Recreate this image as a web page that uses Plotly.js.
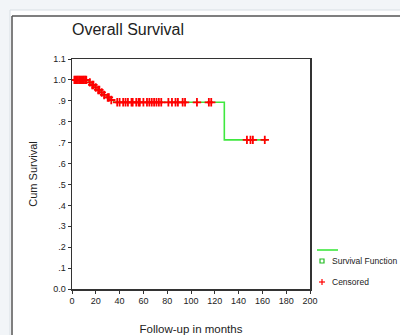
<!DOCTYPE html>
<html><head><meta charset="utf-8">
<script src="https://cdn.plot.ly/plotly-3.0.1.min.js"></script>
<style>html,body{margin:0;padding:0;background:#f2f5f8;}#c{width:400px;height:335px;}</style>
</head><body><div id="c"></div>
<script>
// Kaplan-Meier step function (months, cumulative survival)
var kmTimes = [0, 14, 16, 19, 21, 24, 26, 29, 32, 35, 128, 164];
var kmSurv  = [1.0, 0.988, 0.976, 0.964, 0.952, 0.940, 0.928, 0.916, 0.904, 0.893, 0.713, 0.713];
// Censored observations
var censTimes = [2, 3, 4, 5, 6, 7, 8, 9, 10, 11, 12,
  15, 17, 18, 20, 22, 23, 25, 27, 30, 31, 33,
  38, 40, 43, 45, 47, 50, 51, 54, 56, 57, 60, 63, 65, 67, 69, 71, 73, 75, 81, 84, 87, 89, 93, 95, 105, 115, 117,
  147, 150, 152, 162];
var censSurv = [1.0, 1.0, 1.0, 1.0, 1.0, 1.0, 1.0, 1.0, 1.0, 1.0, 1.0,
  0.988, 0.976, 0.976, 0.964, 0.952, 0.952, 0.940, 0.928, 0.916, 0.916, 0.904,
  0.893, 0.893, 0.893, 0.893, 0.893, 0.893, 0.893, 0.893, 0.893, 0.893, 0.893, 0.893, 0.893, 0.893, 0.893, 0.893, 0.893, 0.893, 0.893, 0.893, 0.893, 0.893, 0.893, 0.893, 0.893, 0.893, 0.893,
  0.713, 0.713, 0.713, 0.713];
var xTicks = [0, 20, 40, 60, 80, 100, 120, 140, 160, 180, 200];
var yTickVals = [0, 0.1, 0.2, 0.3, 0.4, 0.5, 0.6, 0.7, 0.8, 0.9, 1.0, 1.1];
var yTickText = ["0.0", ".1", ".2", ".3", ".4", ".5", ".6", ".7", ".8", ".9", "1.0", "1.1"];
var legendLabels = ["Survival Function", "Censored"];

var green = "#3fe83f", red = "#ff0000";
var font = "Liberation Sans, Arial, sans-serif";

var traces = [
  {x: kmTimes, y: kmSurv, mode: "lines", line: {shape: "hv", color: green, width: 1.6}, showlegend: false, hoverinfo: "skip"},
  {x: censTimes, y: censSurv, mode: "markers", marker: {symbol: "cross-thin", size: 6, line: {color: red, width: 1.8}}, showlegend: false, hoverinfo: "skip"}
];

// plot area: x 72..310, y 59..289
function px(p){ return (p - 72) / 238; }
function py(p){ return (289 - p) / 230; }

var shapes = [
  {type: "rect", xref: "paper", yref: "paper", x0: px(10), x1: px(420), y0: py(10), y1: py(360), fillcolor: "#ffffff", line: {color: "#d8dee4", width: 1}, layer: "below"},
  {type: "line", xref: "paper", yref: "paper", x0: px(12), x1: px(12), y0: py(16), y1: py(360), line: {color: "#555555", width: 1.5}, layer: "below"},
  {type: "line", xref: "paper", yref: "paper", x0: px(12), x1: px(420), y0: py(16), y1: py(16), line: {color: "#555555", width: 1.5}, layer: "below"},
  {type: "line", xref: "paper", yref: "paper", x0: px(317), x1: px(338), y0: py(250), y1: py(250), line: {color: green, width: 1.6}},
  {type: "rect", xref: "paper", yref: "paper", x0: px(320), x1: px(324), y0: py(259), y1: py(263), line: {color: "#22bb22", width: 1.2}},
  {type: "line", xref: "paper", yref: "paper", x0: px(319), x1: px(325), y0: py(282), y1: py(282), line: {color: red, width: 1.2}},
  {type: "line", xref: "paper", yref: "paper", x0: px(322), x1: px(322), y0: py(279), y1: py(285), line: {color: red, width: 1.2}}
];

var annotations = [
  {xref: "paper", yref: "paper", x: px(330), y: py(261), text: legendLabels[0], showarrow: false, xanchor: "left", yanchor: "middle", font: {family: font, size: 8.5, color: "#222"}},
  {xref: "paper", yref: "paper", x: px(330), y: py(282), text: legendLabels[1], showarrow: false, xanchor: "left", yanchor: "middle", font: {family: font, size: 8.5, color: "#222"}}
];

var layout = {
  width: 400, height: 335,
  margin: {l: 72, r: 90, t: 59, b: 46, pad: 0},
  paper_bgcolor: "#f2f5f8", plot_bgcolor: "#ffffff",
  showlegend: false,
  title: {text: "Overall Survival", x: 0, xref: "paper", xanchor: "left", y: py(38), yref: "paper", yanchor: "middle", font: {family: font, size: 16, color: "#222"}},
  xaxis: {range: [0, 200], tickvals: xTicks, ticktext: xTicks.map(String), showgrid: false, zeroline: false, showline: true, mirror: true, linecolor: "#333", linewidth: 1.5,
    ticks: "outside", ticklen: 3, tickcolor: "#333", tickfont: {family: font, size: 9, color: "#222"},
    title: {text: "Follow-up in months", standoff: 21, font: {family: font, size: 11.5, color: "#222"}}},
  yaxis: {range: [0, 1.1], tickvals: yTickVals, ticktext: yTickText, showgrid: false, zeroline: false, showline: true, mirror: true, linecolor: "#333", linewidth: 1.5,
    ticks: "outside", ticklen: 3, tickcolor: "#333", tickfont: {family: font, size: 9, color: "#222"},
    title: {text: "Cum Survival", standoff: 13, font: {family: font, size: 11, color: "#222"}}},
  shapes: shapes,
  annotations: annotations
};
Plotly.newPlot("c", traces, layout, {staticPlot: true, displayModeBar: false});
</script></body></html>
